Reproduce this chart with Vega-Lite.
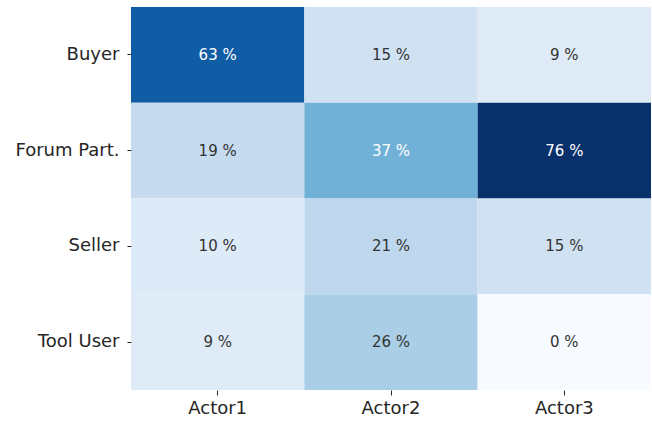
{
  "$schema": "https://vega.github.io/schema/vega-lite/v6.json",
  "width": 520,
  "height": 383,
  "autosize": "none",
  "padding": {"left": 131, "top": 7, "right": 1, "bottom": 31},
  "background": "white",
  "config": {"view": {"stroke": null}, "font": "DejaVu Sans"},
  "data": {"values": [
    {"role": "Buyer", "actor": "Actor1", "v": 63},
    {"role": "Buyer", "actor": "Actor2", "v": 15},
    {"role": "Buyer", "actor": "Actor3", "v": 9},
    {"role": "Forum Part.", "actor": "Actor1", "v": 19},
    {"role": "Forum Part.", "actor": "Actor2", "v": 37},
    {"role": "Forum Part.", "actor": "Actor3", "v": 76},
    {"role": "Seller", "actor": "Actor1", "v": 10},
    {"role": "Seller", "actor": "Actor2", "v": 21},
    {"role": "Seller", "actor": "Actor3", "v": 15},
    {"role": "Tool User", "actor": "Actor1", "v": 9},
    {"role": "Tool User", "actor": "Actor2", "v": 26},
    {"role": "Tool User", "actor": "Actor3", "v": 0}
  ]},
  "encoding": {
    "x": {"field": "actor", "type": "nominal", "sort": ["Actor1", "Actor2", "Actor3"],
      "scale": {"paddingInner": 0, "paddingOuter": 0},
      "axis": {"title": null, "labelAngle": 0, "labelFontSize": 18, "labelColor": "#262626", "labelPadding": 4, "tickSize": 5, "tickColor": "#262626", "domain": false, "labelFont": "DejaVu Sans"}},
    "y": {"field": "role", "type": "nominal", "sort": ["Buyer", "Forum Part.", "Seller", "Tool User"],
      "scale": {"paddingInner": 0, "paddingOuter": 0},
      "axis": {"title": null, "labelFontSize": 18, "labelColor": "#262626", "labelPadding": 8, "tickSize": 4, "tickColor": "#262626", "domain": false, "labelFont": "DejaVu Sans"}}
  },
  "layer": [
    {
      "mark": {"type": "rect", "stroke": null},
      "encoding": {
        "color": {"field": "v", "type": "quantitative", "legend": null,
          "scale": {"type": "linear", "domain": [0, 9.5, 19, 28.5, 38, 47.5, 57, 66.5, 76],
            "range": ["#f7fbff", "#deebf7", "#c6dbef", "#9ecae1", "#6baed6", "#4292c6", "#2171b5", "#08519c", "#08306b"]}}
      }
    },
    {
      "transform": [{"calculate": "datum.v + ' %'", "as": "lbl"}],
      "mark": {"type": "text", "fontSize": 15, "font": "DejaVu Sans"},
      "encoding": {
        "text": {"field": "lbl", "type": "nominal"},
        "color": {"condition": {"test": "datum.v > 30", "value": "#ffffff"}, "value": "#333333"}
      }
    }
  ]
}
